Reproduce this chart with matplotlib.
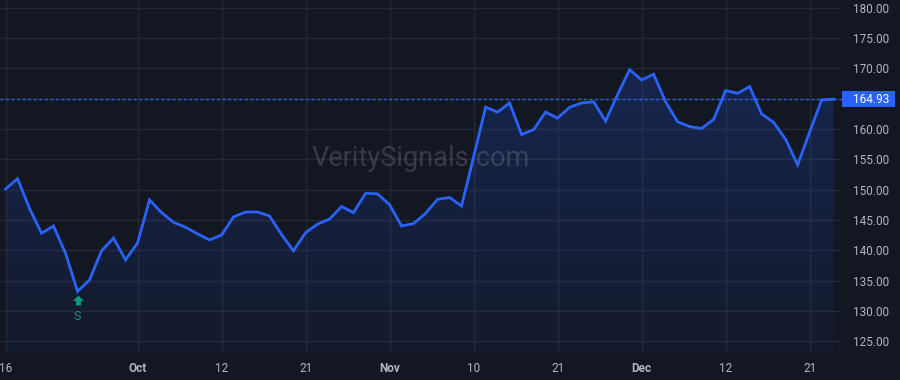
import numpy as np
import matplotlib
matplotlib.use("Agg")
import matplotlib.pyplot as plt
from matplotlib import transforms
from matplotlib.patches import Rectangle
from matplotlib.path import Path
from matplotlib.colors import LinearSegmentedColormap

plt.rcParams['font.family'] = ['Roboto', 'DejaVu Sans']

# closing prices, one per trading day
prices = [150.1, 151.8, 146.9, 142.8, 144.0, 139.5, 133.2, 135.1, 139.9, 142.0,
          138.4, 141.2, 148.3, 146.2, 144.6, 143.8, 142.7, 141.7, 142.5, 145.5,
          146.3, 146.3, 145.65, 142.6, 139.9, 142.9, 144.3, 145.15, 147.2, 146.2,
          149.4, 149.3, 147.5, 144.0, 144.4, 146.1, 148.4, 148.7, 147.3, 155.4,
          163.6, 162.8, 164.3, 159.1, 159.9, 162.8, 161.8, 163.6, 164.3, 164.5,
          161.3, 165.7, 169.8, 168.1, 169.05, 164.5, 161.2, 160.4, 160.1, 161.6,
          166.35, 165.9, 167.0, 162.5, 161.1, 158.3, 154.1, 159.5, 164.8, 164.93]
tick_idx = [0, 11, 18, 25, 32, 39, 46, 53, 60, 67]
tick_labels = ["16", "Oct", "12", "21", "Nov", "10", "21", "Dec", "12", "21"]
month_labels = ["Oct", "Nov", "Dec"]
y_ticks = [125, 130, 135, 140, 145, 150, 155, 160, 165, 170, 175, 180]
signal_idx = 6
signal_text = "S"
last_price = prices[-1]

bg = "#131722"
grid = "#242833"
line_c = "#2962FF"
text_c = "#B2B5BE"
green = "#089981"

x = np.arange(len(prices))
fig = plt.figure(figsize=(9, 3.8), dpi=100, facecolor=bg)
ax = fig.add_axes([0.0, 0.0737, 0.9356, 0.9263], facecolor=bg)

ymin, ymax = 123.2, 181.3
ax.set_ylim(ymin, ymax)
ax.set_xlim(-0.46, 69.7)

# gradient fill under the line
poly = ax.fill_between(x, prices, ymin, color="none", lw=0)
cmap = LinearSegmentedColormap.from_list("g", [(0.16, 0.38, 1.0, 0.05), (0.16, 0.38, 1.0, 0.24)])
grad = np.linspace(0, 1, 256).reshape(-1, 1)
im = ax.imshow(grad, cmap=cmap, aspect="auto", origin="lower",
               extent=[x[0], x[-1], ymin, ymax], zorder=1)
im.set_clip_path(poly.get_paths()[0], transform=ax.transData)

ax.plot(x, prices, color=line_c, lw=2, zorder=3, solid_joinstyle="miter")
ax.axhline(last_price, color=line_c, lw=1, ls=(0, (2, 2)), zorder=2)

# grid
ax.set_yticks(y_ticks)
ax.set_yticklabels([f"{v:.2f}" for v in y_ticks])
ax.set_xticks(tick_idx)
ax.set_xticklabels(tick_labels)
ax.grid(True, color=grid, lw=1, zorder=0)
ax.yaxis.tick_right()
ax.tick_params(axis="y", length=0, pad=8, labelsize=8.5, labelcolor=text_c)
ax.tick_params(axis="x", length=0, pad=7, labelsize=8.5, labelcolor=text_c)
for lbl in ax.get_xticklabels():
    if lbl.get_text() in month_labels:
        lbl.set_fontweight("bold")
for s in ax.spines.values():
    s.set_visible(False)
ax.set_axisbelow(True)

# watermark
ax.text(0.5, 0.55, "VeritySignals.com", transform=ax.transAxes, ha="center", va="center",
        fontsize=19.5, color="#9598A1", alpha=0.28, zorder=2)

# signal marker: up arrow a few pixels below the low, with the letter under it
arrow = Path([(0, 4.5), (5, -0.5), (2.2, -0.5), (2.2, -4.5), (-2.2, -4.5), (-2.2, -0.5), (-5, -0.5), (0, 4.5)],
             [Path.MOVETO] + [Path.LINETO] * 6 + [Path.CLOSEPOLY])
below = transforms.offset_copy(ax.transData, fig=fig, y=-9, units="dots")
ax.plot([signal_idx], [prices[signal_idx]], marker=arrow, markersize=8, color=green,
        mew=0, transform=below, zorder=4)
ax.annotate(signal_text, xy=(signal_idx, prices[signal_idx]), xytext=(0, -17.8),
            textcoords="offset points", ha="center", va="center", color=green, fontsize=9)

# last price label (box covers the 165.00 tick label, like the reference)
trans = transforms.blended_transform_factory(ax.transAxes, ax.transData)
box_h = 16 * (ymax - ymin) / 352
ax.add_patch(Rectangle((1.0, last_price - box_h / 2), 53 / 842, box_h, transform=trans,
                       fc=line_c, ec="none", clip_on=False, zorder=5))
ax.text(853 / 842, last_price, f"{last_price:.2f}", transform=trans, ha="left", va="center",
        color="white", fontsize=8.5, clip_on=False, zorder=6)

fig.savefig("out.png", dpi=100, facecolor=bg)
